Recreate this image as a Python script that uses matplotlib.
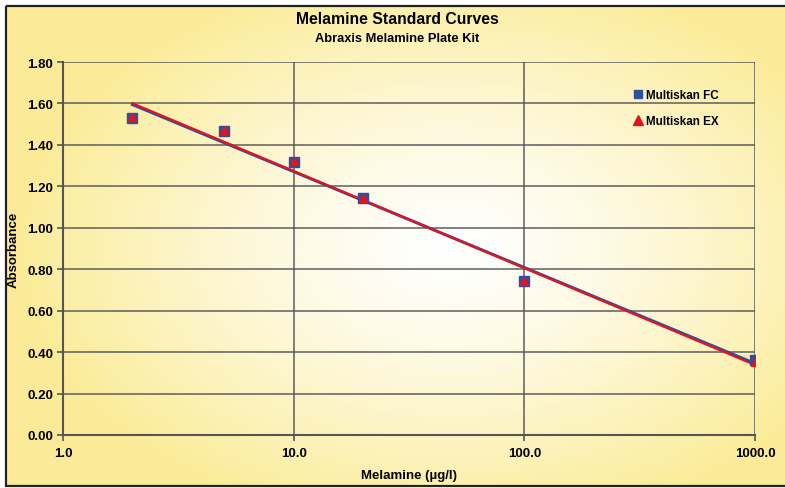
import numpy as np
import matplotlib
matplotlib.use("Agg")
import matplotlib.pyplot as plt
from matplotlib.lines import Line2D
from matplotlib.patches import Rectangle

# ---- data ----
concentration = [2, 5, 10, 20, 100, 1000]
fc_absorbance = [1.53, 1.467, 1.317, 1.142, 0.743, 0.362]
ex_absorbance = [1.535, 1.470, 1.320, 1.144, 0.745, 0.352]
series_names = ["Multiskan FC", "Multiskan EX"]
x_ticks = [1, 10, 100, 1000]
x_tick_labels = ["1.0", "10.0", "100.0", "1000.0"]
y_ticks = [0.0, 0.2, 0.4, 0.6, 0.8, 1.0, 1.2, 1.4, 1.6, 1.8]

FONT = ["Liberation Sans", "DejaVu Sans"]
plt.rcParams['font.family'] = FONT
plt.rcParams['font.weight'] = 'bold'

W, H = 785, 489
fig = plt.figure(figsize=(W / 100, H / 100), dpi=100)
fig.patch.set_facecolor("white")

# background radial gradient
bg = fig.add_axes([0, 0, 1, 1], zorder=-10)
X, Y = np.meshgrid(np.arange(W), np.arange(H))
r = np.sqrt(((X - 450) / 430.0) ** 2 + ((Y - 250) / 280.0) ** 2)
t = np.clip(r, 0, 1) ** 1.3
white = np.array([1.0, 1.0, 1.0])
yellow = np.array([0.985, 0.925, 0.60])
img = white[None, None, :] * (1 - t[..., None]) + yellow[None, None, :] * t[..., None]
bg.imshow(img, extent=[0, W, H, 0], aspect='auto', interpolation='bilinear')
bg.add_patch(Rectangle((0, 0), 6, H, color='white'))
bg.add_patch(Rectangle((0, 0), W, 7, color='white'))
bg.add_patch(Rectangle((0, 487), W, 10, color='white'))
bg.add_patch(Rectangle((6, 7), W + 10, 480, fill=False, edgecolor='#222222', lw=1.6))
bg.set_xlim(0, W)
bg.set_ylim(H, 0)
bg.axis('off')

AX_L, AX_R, AX_T, AX_B = 63, 755, 63, 436
ax = fig.add_axes([AX_L / W, 1 - AX_B / H, (AX_R - AX_L) / W, (AX_B - AX_T) / H])
ax.patch.set_alpha(0)
ax.set_xscale('log')


def ax_x(px):
    return (px - AX_L) / (AX_R - AX_L)


def ax_y(py):
    return (AX_B - py) / (AX_B - AX_T)


gridc = '#555555'
ax.grid(True, axis='both', which='major', color=gridc, lw=1.3, alpha=0.8, zorder=0)
ax.tick_params(axis='both', length=4, width=1.2, color=gridc, labelsize=9.5, pad=3)
ax.tick_params(axis='x', pad=5)
for s in ['top', 'right']:
    ax.spines[s].set_visible(False)
for s in ['left', 'bottom']:
    ax.spines[s].set_color(gridc)
    ax.spines[s].set_linewidth(1.5)

blue = '#2F4E9E'
red = '#E5141C'

# logarithmic trend lines
lx = np.log10(concentration)
xs = np.array([min(concentration), max(concentration)])
for vals, c, lw in [(fc_absorbance, blue, 2.2), (ex_absorbance, red, 1.6)]:
    b, a = np.polyfit(lx, vals, 1)
    ax.plot(xs, a + b * np.log10(xs), color=c, lw=lw, zorder=3)

ax.plot(concentration, fc_absorbance, ls='none', marker='s', ms=6.5,
        color=blue, zorder=4)
ax.plot(concentration, ex_absorbance, ls='none', marker='^', ms=6,
        color=red, zorder=5)

# legend area: same gradient, covering the gridline behind it
lx0, lx1, ly0, ly1 = 603, 752, 78, 140
crop = img[ly0:ly1, lx0:lx1]
ax.imshow(crop, extent=[ax_x(lx0), ax_x(lx1), ax_y(ly1), ax_y(ly0)],
          transform=ax.transAxes, aspect='auto', zorder=1,
          interpolation='bilinear')

ax.set_xlim(1, 1000)
ax.set_ylim(0, 1.8)
ax.set_yticks(y_ticks)
ax.set_yticklabels([f"{v:.2f}" for v in y_ticks])
ax.set_xticks(x_ticks)
ax.set_xticklabels(x_tick_labels)
ax.xaxis.set_minor_locator(matplotlib.ticker.NullLocator())

handles = [Line2D([], [], ls='none', marker='s', ms=6, color=blue),
           Line2D([], [], ls='none', marker='^', ms=6.5, color=red)]
leg = ax.legend(handles, series_names, loc='center left',
                bbox_to_anchor=(ax_x(633), ax_y(109)),
                frameon=False, borderpad=0, borderaxespad=0,
                handlelength=0.8, handletextpad=0.35, labelspacing=1.25,
                prop={'size': 8.4, 'weight': 'bold'})
leg.set_zorder(6)

ax.set_xlabel("Melamine (µg/l)", fontsize=9.5, fontweight='bold', labelpad=7)
ax.set_ylabel("Absorbance", fontsize=9.5, fontweight='bold')
ax.yaxis.set_label_coords(ax_x(20), 0.5)

fig.text(397 / W, 1 - 20 / H, "Melamine Standard Curves", ha='center',
         va='center', fontsize=11.3, fontweight='bold')
fig.text(397 / W, 1 - 39 / H, "Abraxis Melamine Plate Kit", ha='center',
         va='center', fontsize=9.3, fontweight='bold')

fig.savefig("out.png", dpi=100)
